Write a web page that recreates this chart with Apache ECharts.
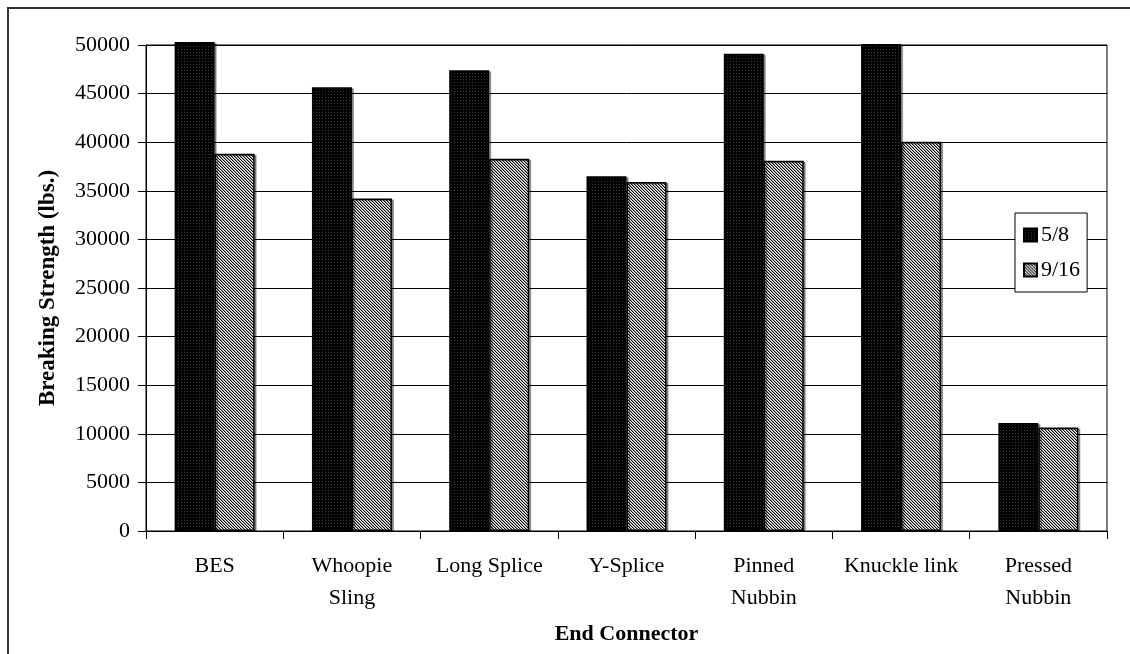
<!DOCTYPE html>
<html>
<head>
<meta charset="utf-8">
<script src="https://cdn.jsdelivr.net/npm/echarts@6/dist/echarts.min.js"></script>
<style>
html,body{margin:0;padding:0;background:#fff;}
#chart{width:1130px;height:654px;}
</style>
</head>
<body>
<div id="chart"></div>
<script>
const categories = ['BES', 'Whoopie\nSling', 'Long Splice', 'Y-Splice', 'Pinned\nNubbin', 'Knuckle link', 'Pressed\nNubbin'];
const seriesNames = ['5/8', '9/16'];
const values58 = [50300, 45650, 47400, 36500, 49100, 50100, 11100];
const values916 = [38800, 34200, 38300, 35900, 38100, 40050, 10650];
const yTicks = {min: 0, max: 50000, interval: 5000};

function makePattern(kind) {
  const c = document.createElement('canvas');
  const g = c.getContext('2d');
  if (kind === 'dark') {
    c.width = 3; c.height = 3;
    g.fillStyle = '#000'; g.fillRect(0, 0, 3, 3);
    g.fillStyle = '#3a3a3a';
    g.fillRect(1, 1, 1, 1);
  } else {
    c.width = 3; c.height = 3;
    g.fillStyle = '#fff'; g.fillRect(0, 0, 3, 3);
    for (let x = 0; x < 3; x++) for (let y = 0; y < 3; y++) {
      const k = (x + 3 - y) % 3;
      if (k === 0) { g.fillStyle = '#000'; g.fillRect(x, y, 1, 1); }
      else if (k === 1) { g.fillStyle = '#999'; g.fillRect(x, y, 1, 1); }
    }
  }
  return {image: c, repeat: 'repeat'};
}

const font = '"Liberation Serif", "Times New Roman", serif';
const chart = echarts.init(document.getElementById('chart'));
const barStyle = (kind) => ({
  color: makePattern(kind),
  borderColor: '#000',
  borderWidth: 1.5,
  shadowColor: 'rgba(0,0,0,0.35)',
  shadowOffsetX: 2,
  shadowOffsetY: 1,
  shadowBlur: 0
});

chart.setOption({
  animation: false,
  backgroundColor: '#fff',
  textStyle: {fontFamily: font, color: '#000'},
  graphic: [{
    type: 'rect',
    shape: {x: 8, y: 8, width: 1300, height: 900},
    style: {fill: 'none', stroke: '#333', lineWidth: 2},
    silent: true
  }],
  grid: {left: 146, right: 23, top: 45, bottom: 123, show: true, borderColor: '#000', borderWidth: 1, backgroundColor: 'transparent'},
  legend: {
    orient: 'vertical',
    left: 1015,
    top: 213,
    width: 71,
    padding: [11, 7, 11, 8],
    itemGap: 13,
    itemWidth: 13,
    itemHeight: 13,
    borderColor: '#000',
    borderWidth: 1,
    backgroundColor: '#fff',
    textStyle: {fontFamily: font, fontSize: 22, color: '#000', padding: [0, 0, 0, -1]},
    data: seriesNames.map(n => ({name: n, icon: 'rect'}))
  },
  xAxis: {
    type: 'category',
    data: categories,
    name: 'End Connector',
    nameLocation: 'middle',
    nameGap: 92,
    nameTextStyle: {fontFamily: font, fontSize: 22, fontWeight: 'bold', color: '#000'},
    axisLine: {lineStyle: {color: '#000', width: 1}},
    axisTick: {show: true, length: 8, lineStyle: {color: '#000'}},
    axisLabel: {fontFamily: font, fontSize: 22, color: '#000', lineHeight: 32, margin: 19, interval: 0}
  },
  yAxis: {
    type: 'value',
    min: yTicks.min,
    max: yTicks.max,
    interval: yTicks.interval,
    name: 'Breaking Strength (lbs.)',
    nameLocation: 'middle',
    nameGap: 86,
    nameTextStyle: {fontFamily: font, fontSize: 23, fontWeight: 'bold', color: '#000'},
    axisLine: {show: true, lineStyle: {color: '#000', width: 1}},
    axisTick: {show: true, length: 8, lineStyle: {color: '#000'}},
    axisLabel: {fontFamily: font, fontSize: 22, color: '#000', margin: 16, formatter: (v) => String(v)},
    splitLine: {show: true, lineStyle: {color: '#000', width: 1}}
  },
  series: [
    {name: seriesNames[0], type: 'bar', data: values58, barWidth: 40, barGap: '0%', clip: false, itemStyle: barStyle('dark')},
    {name: seriesNames[1], type: 'bar', data: values916, barWidth: 40, barGap: '0%', clip: false, itemStyle: barStyle('hatch')}
  ]
});
</script>
</body>
</html>
